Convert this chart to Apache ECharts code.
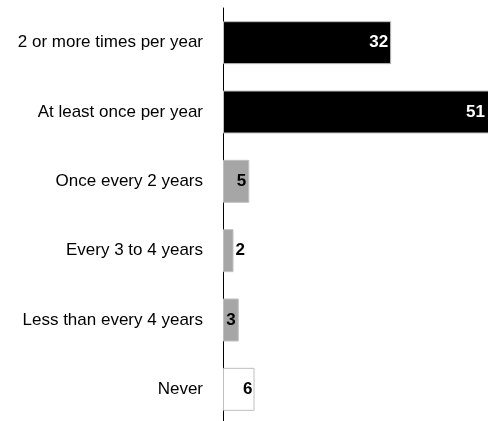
<!DOCTYPE html>
<html>
<head>
<meta charset="utf-8">
<script src="https://cdn.jsdelivr.net/npm/echarts@6/dist/echarts.min.js"></script>
<style>
html,body{margin:0;padding:0;background:#fff;}
#chart{width:488px;height:421px;}
</style>
</head>
<body>
<div id="chart"></div>
<script>
const categories = ["2 or more times per year","At least once per year","Once every 2 years","Every 3 to 4 years","Less than every 4 years","Never"];
const values = [32, 51, 5, 2, 3, 6];
const barColors = ["#000000","#000000","#a6a6a6","#a6a6a6","#a6a6a6","#ffffff"];
const labelColors = ["#ffffff","#ffffff","#000000","#000000","#000000","#000000"];
const labelPositions = ["insideRight","insideRight","insideRight","right","insideRight","insideRight"];
const labelDistances = [3, 6, 3, 2, 3, 2];

const FONT = '"Liberation Sans", Arial, sans-serif';
const chart = echarts.init(document.getElementById('chart'), null, {renderer:'canvas'});
chart.setOption({
  animation: false,
  backgroundColor: '#ffffff',
  grid: {left: 223, right: -3, top: 8, bottom: -3, containLabel: false, outerBoundsMode: 'none'},
  xAxis: {
    type: 'value', min: 0, max: 51, show: false,
    splitLine: {show: false}
  },
  yAxis: {
    type: 'category', data: categories, inverse: true,
    axisLine: {show: true, lineStyle: {color: '#000', width: 1}},
    axisTick: {show: false},
    axisLabel: {color: '#000', fontSize: 17, fontFamily: FONT, margin: 20}
  },
  series: [{
    type: 'bar',
    barCategoryGap: '38%',
    clip: true,
    data: values.map((v, i) => ({
      value: v,
      itemStyle: {color: barColors[i], borderColor: '#bfbfbf', borderWidth: 1},
      label: {
        show: true,
        position: labelPositions[i],
        distance: labelDistances[i],
        color: labelColors[i],
        fontWeight: 'bold',
        fontSize: 17,
        fontFamily: FONT
      }
    }))
  }]
});
</script>
</body>
</html>
